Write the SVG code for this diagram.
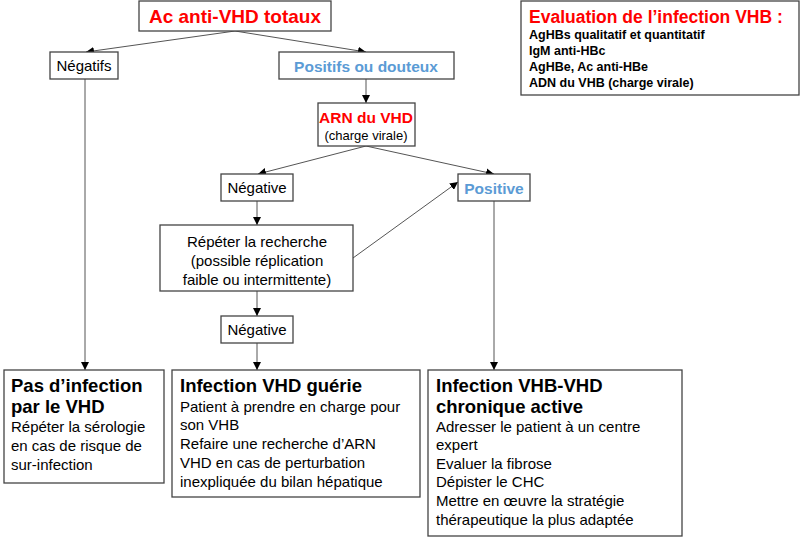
<svg xmlns="http://www.w3.org/2000/svg" width="800" height="538" viewBox="0 0 800 538">
<defs>
<marker id="ah" viewBox="0 0 10 10" refX="10" refY="5" markerWidth="8" markerHeight="8" markerUnits="userSpaceOnUse" orient="auto"><path d="M0,0L10,5L0,10z" fill="#000"/></marker>
<style>
rect{fill:#fff;stroke:#444;stroke-width:1.3}
text{font-family:"Liberation Sans",Arial,sans-serif;fill:#000}
.c{text-anchor:middle}
.red{fill:#f00;font-weight:bold}
.blue{fill:#5b9bd5;font-weight:bold}
.b{font-weight:bold}
#conn line{stroke:#555;stroke-width:1;marker-end:url(#ah)}
</style>
</defs>
<rect x="0" y="0" width="800" height="538" style="fill:#fff;stroke:none"/>
<g id="conn">
<line x1="235" y1="31" x2="86" y2="52"/>
<line x1="235" y1="31" x2="366" y2="52"/>
<line x1="366" y1="79" x2="366" y2="103"/>
<line x1="366" y1="146" x2="258" y2="174"/>
<line x1="366" y1="146" x2="494" y2="174"/>
<line x1="257" y1="201" x2="257" y2="225"/>
<line x1="353" y1="258" x2="458" y2="182"/>
<line x1="257" y1="291" x2="257" y2="316"/>
<line x1="257" y1="343" x2="257" y2="370"/>
<line x1="85" y1="79" x2="85" y2="370"/>
<line x1="494" y1="201" x2="494" y2="370"/>
</g>
<g id="top"><rect x="139" y="1" width="192" height="30"/><text x="235" y="23" class="c red" font-size="19">Ac anti-VHD totaux</text></g>
<g id="negatifs"><rect x="50" y="52" width="68" height="27"/><text x="84" y="71" class="c" font-size="15">Négatifs</text></g>
<g id="positifs"><rect x="279" y="52" width="175" height="27"/><text x="366" y="72" class="c blue" font-size="15.5">Positifs ou douteux</text></g>
<g id="arn"><rect x="318" y="103" width="97" height="43"/><text x="366" y="123" class="c red" font-size="15.5">ARN du VHD</text><text x="366" y="140" class="c" font-size="13">(charge virale)</text></g>
<g id="negative1"><rect x="221" y="174" width="72" height="27"/><text x="257" y="193" class="c" font-size="15">Négative</text></g>
<g id="positive"><rect x="458" y="174" width="72" height="27"/><text x="494" y="194" class="c blue" font-size="15.5">Positive</text></g>
<g id="repeter"><rect x="160" y="225" width="193" height="66"/><text class="c" font-size="15"><tspan x="257" y="247">Répéter la recherche</tspan><tspan x="257" y="266">(possible réplication</tspan><tspan x="257" y="285">faible ou intermittente)</tspan></text></g>
<g id="negative2"><rect x="221" y="316" width="72" height="27"/><text x="257" y="335" class="c" font-size="15">Négative</text></g>
<g id="pas"><rect x="4" y="370" width="160" height="113"/><text class="b" font-size="18.5"><tspan x="11" y="392">Pas d’infection</tspan><tspan x="11" y="413">par le VHD</tspan></text><text font-size="15"><tspan x="11" y="432">Répéter la sérologie</tspan><tspan x="11" y="451">en cas de risque de</tspan><tspan x="11" y="470">sur-infection</tspan></text></g>
<g id="guerie"><rect x="172" y="370" width="248" height="127"/><text class="b" font-size="18.5" x="180" y="392">Infection VHD guérie</text><text font-size="15"><tspan x="180" y="412">Patient à prendre en charge pour</tspan><tspan x="180" y="430">son VHB</tspan><tspan x="180" y="449">Refaire une recherche d’ARN</tspan><tspan x="180" y="468">VHD en cas de perturbation</tspan><tspan x="180" y="487">inexpliquée du bilan hépatique</tspan></text></g>
<g id="chronique"><rect x="428" y="370" width="254" height="166"/><text class="b" font-size="18.5"><tspan x="436" y="392">Infection VHB-VHD</tspan><tspan x="436" y="413">chronique active</tspan></text><text font-size="15"><tspan x="436" y="432">Adresser le patient à un centre</tspan><tspan x="436" y="450">expert</tspan><tspan x="436" y="469">Evaluer la fibrose</tspan><tspan x="436" y="487">Dépister le CHC</tspan><tspan x="436" y="506">Mettre en œuvre la stratégie</tspan><tspan x="436" y="525">thérapeutique la plus adaptée</tspan></text></g>
<g id="eval"><rect x="521" y="1" width="278" height="94"/><text x="529" y="23" class="red" font-size="17.5">Evaluation de l’infection VHB :</text><text class="b" font-size="12.5"><tspan x="529" y="39">AgHBs qualitatif et quantitatif</tspan><tspan x="529" y="55">IgM anti-HBc</tspan><tspan x="529" y="71">AgHBe, Ac anti-HBe</tspan><tspan x="529" y="87">ADN du VHB (charge virale)</tspan></text></g>
</svg>
